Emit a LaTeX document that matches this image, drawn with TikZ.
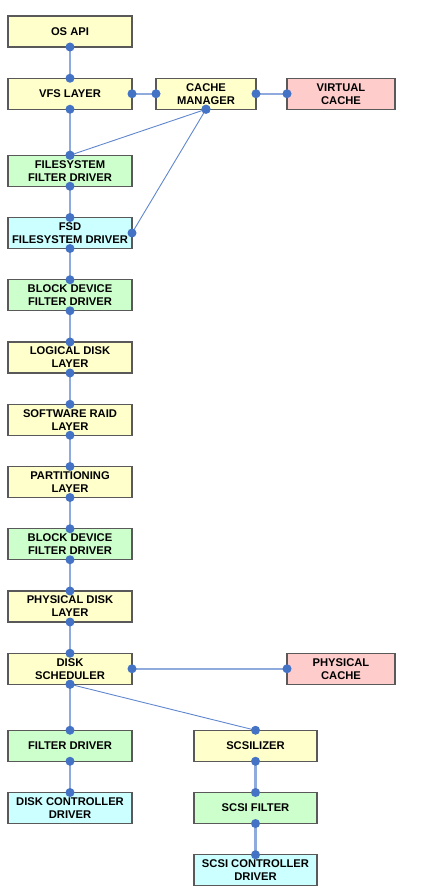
\documentclass[tikz,border=0pt]{standalone}
\usepackage{fontspec}
\setmainfont{Liberation Sans}
\usetikzlibrary{positioning}
\definecolor{boxyellow}{HTML}{FFFFCC}
\definecolor{boxgreen}{HTML}{CCFFCC}
\definecolor{boxcyan}{HTML}{CCFFFF}
\definecolor{boxpink}{HTML}{FFCCCC}
\definecolor{linkblue}{HTML}{8FAADC}
\definecolor{dotblue}{HTML}{4472C4}
\begin{document}
\begin{tikzpicture}[
      x=1pt, y=-1pt, node distance=31.25pt,
      font=\bfseries\fontsize{11.2}{13}\selectfont,
      layer/.style={draw=black!65, line width=1.2pt, align=center, inner sep=0pt,
                    outer sep=0pt, minimum width=124pt, minimum height=31pt},
      yel/.style={layer, fill=boxyellow},
      grn/.style={layer, fill=boxgreen},
      cyn/.style={layer, fill=boxcyan},
      pnk/.style={layer, fill=boxpink},
      link/.style={draw=linkblue, line width=2.2pt},
      thin link/.style={draw=dotblue!85, line width=0.9pt},
      joint/.style={circle, fill=dotblue, inner sep=0pt, minimum size=9pt},
    ]
    \useasboundingbox (0,0) rectangle (421,896);

    % left column
    \node[yel] (osapi) at (70,31.5) {OS API};
    \node[yel, below=of osapi] (vfs) {VFS LAYER};
    \node[grn, below=46pt of vfs] (fsfilter) {FILESYSTEM\\FILTER DRIVER};
    \node[cyn, below=of fsfilter] (fsd) {FSD\\FILESYSTEM DRIVER};
    \node[grn, below=of fsd] (bdfilter) {BLOCK DEVICE\\FILTER DRIVER};
    \node[yel, below=of bdfilter] (logical) {LOGICAL DISK\\LAYER};
    \node[yel, below=of logical] (raid) {SOFTWARE RAID\\LAYER};
    \node[yel, below=of raid] (part) {PARTITIONING\\LAYER};
    \node[grn, below=of part] (bdfilter2) {BLOCK DEVICE\\FILTER DRIVER};
    \node[yel, below=of bdfilter2] (physical) {PHYSICAL DISK\\LAYER};
    \node[yel, below=of physical] (sched) {DISK\\SCHEDULER};
    \node[grn, below=46pt of sched] (filter) {FILTER DRIVER};
    \node[cyn, below=of filter] (diskctl) {DISK CONTROLLER\\DRIVER};

    % right side
    \node[yel, minimum width=100pt, right=24pt of vfs] (cachemgr) {CACHE\\MANAGER};
    \node[pnk, minimum width=108pt, right=31pt of cachemgr] (vcache) {VIRTUAL\\CACHE};
    \node[pnk, minimum width=108pt, right=155pt of sched] (pcache) {PHYSICAL\\CACHE};
    \node[yel, minimum width=123pt, right=62pt of filter] (scsilizer) {SCSILIZER};
    \node[grn, minimum width=123pt, below=of scsilizer] (scsifilter) {SCSI FILTER};
    \node[cyn, minimum width=123pt, below=of scsifilter] (scsictl) {SCSI CONTROLLER\\DRIVER};

    % vertical chain
    \foreach \a/\b in {osapi/vfs, vfs/fsfilter, fsfilter/fsd, fsd/bdfilter,
                       bdfilter/logical, logical/raid, raid/part, part/bdfilter2,
                       bdfilter2/physical, physical/sched, sched/filter,
                       filter/diskctl, scsilizer/scsifilter, scsifilter/scsictl}
      \draw[link] (\a.south) node[joint]{} -- (\b.north) node[joint]{};

    % side links
    \draw[link] (vfs.east) node[joint]{} -- (cachemgr.west) node[joint]{};
    \draw[link] (cachemgr.east) node[joint]{} -- (vcache.west) node[joint]{};
    \draw[link] (sched.east) node[joint]{} -- (pcache.west) node[joint]{};
    \draw[thin link] (cachemgr.south) node[joint]{} -- (fsfilter.north) node[joint]{};
    \draw[thin link] (cachemgr.south) node[joint]{} -- (fsd.east) node[joint]{};
    \draw[thin link] (sched.south) node[joint]{} -- (scsilizer.north) node[joint]{};
  \end{tikzpicture}
\end{document}
